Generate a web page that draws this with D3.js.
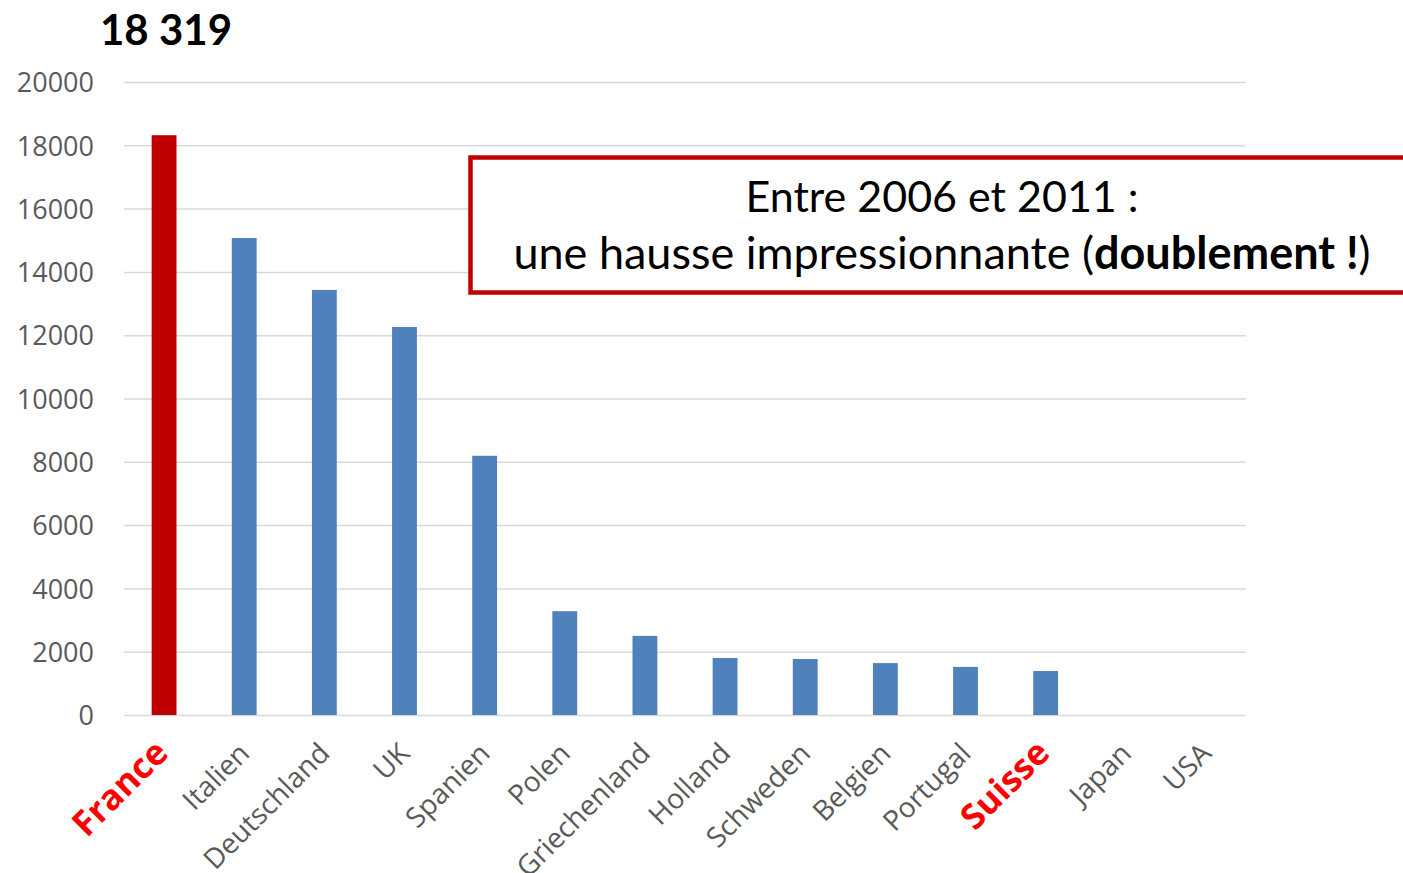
<!DOCTYPE html>
<html>
<head>
<meta charset="utf-8">
<script src="https://cdn.jsdelivr.net/npm/d3@7"></script>
<style>
  body { margin: 0; background: #fff; }
  svg { display: block; }
</style>
</head>
<body>
<script>
// données
const pays = ["France", "Italien", "Deutschland", "UK", "Spanien", "Polen", "Griechenland",
              "Holland", "Schweden", "Belgien", "Portugal", "Suisse", "Japan", "USA"];
const valeurs = [18319, 15070, 13430, 12260, 8190, 3280, 2500, 1800, 1770, 1640, 1520, 1390, 0, 0];
const enRouge = ["France", "Suisse"];
const yTicks = [0, 2000, 4000, 6000, 8000, 10000, 12000, 14000, 16000, 18000, 20000];
const titre = "18 319";
const ligne1 = "Entre 2006 et 2011 :";

const W = 1403, H = 873;
const svg = d3.select("body").append("svg").attr("width", W).attr("height", H);

const x = d3.scaleBand().domain(pays).range([124, 1246]).paddingInner(0.69).paddingOuter(0.345);
const y = d3.scaleLinear().domain([0, 20000]).range([715, 82]);

// grille + graduations
const yAxis = svg.append("g").attr("transform", "translate(124,0)")
  .call(d3.axisLeft(y).tickValues(yTicks).tickSize(-1122).tickPadding(30).tickFormat(d => d));
yAxis.select(".domain").remove();
yAxis.selectAll(".tick line").attr("stroke", "#d9d9d9").attr("stroke-width", 1.5);
yAxis.selectAll(".tick text").attr("fill", "#595959").attr("font-family", "Open Sans")
  .attr("font-size", 27).attr("dy", "0.36em");

// barres
svg.selectAll("rect.bar").data(pays).enter().append("rect")
  .attr("class", "bar")
  .attr("x", d => x(d))
  .attr("width", x.bandwidth())
  .attr("y", (d, i) => y(valeurs[i]))
  .attr("height", (d, i) => y(0) - y(valeurs[i]))
  .attr("fill", d => d === "France" ? "#c00000" : "#4f81bd");

// étiquettes des pays
svg.selectAll("text.pays").data(pays).enter().append("text")
  .attr("class", "pays")
  .attr("transform", d => `translate(${x(d) + x.bandwidth() / 2 + (enRouge.includes(d) ? 6 : 7)},${755}) rotate(-45)`)
  .attr("text-anchor", "end")
  .attr("font-family", "Open Sans")
  .attr("font-size", d => enRouge.includes(d) ? 35 : 28)
  .attr("font-weight", d => enRouge.includes(d) ? "bold" : "normal")
  .attr("fill", d => enRouge.includes(d) ? "#ff0000" : "#595959")
  .text(d => d);

// valeur de la France
svg.append("text").attr("x", 100).attr("y", 45)
  .attr("font-family", "Lato").attr("font-weight", "bold").attr("font-size", 42)
  .attr("fill", "#000").text(titre);

// encadré
svg.append("rect").attr("x", 470.5).attr("y", 157.5).attr("width", 1000).attr("height", 135)
  .attr("fill", "#fff").attr("stroke", "#c00000").attr("stroke-width", 4.5);

svg.append("text").attr("x", 942).attr("y", 212).attr("text-anchor", "middle")
  .attr("font-family", "Lato").attr("font-size", 43).attr("fill", "#000").text(ligne1);

const t2 = svg.append("text").attr("x", 942).attr("y", 269).attr("text-anchor", "middle")
  .attr("font-family", "Lato").attr("font-size", 45).attr("fill", "#000");
t2.append("tspan").text("une hausse impressionnante (");
t2.append("tspan").attr("font-weight", "bold").text("doublement !");
t2.append("tspan").text(")");
</script>
</body>
</html>
